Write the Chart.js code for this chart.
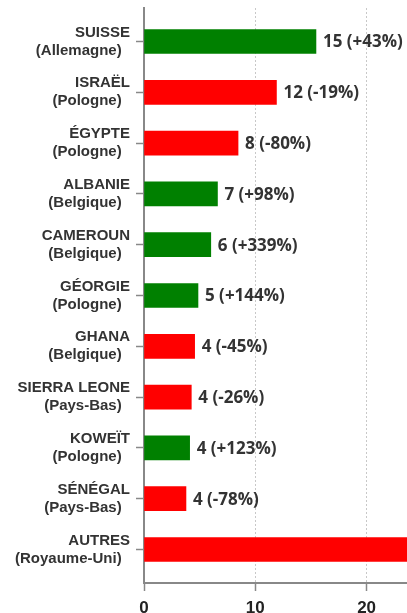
<!DOCTYPE html>
<html>
<head>
<meta charset="utf-8">
<script src="https://cdn.jsdelivr.net/npm/chart.js@4"></script>
<style>
  html, body { margin: 0; padding: 0; background: #fff; overflow: hidden; }
  #wrap { position: relative; width: 407px; height: 613px; }
</style>
</head>
<body>
<div id="wrap"><canvas id="myChart"></canvas></div>
<script>
// countries, main partner, and values
const countries = ['SUISSE', 'ISRAËL', 'ÉGYPTE', 'ALBANIE', 'CAMEROUN', 'GÉORGIE',
  'GHANA', 'SIERRA LEONE', 'KOWEÏT', 'SÉNÉGAL', 'AUTRES'];
const partners = ['Allemagne', 'Pologne', 'Pologne', 'Belgique', 'Belgique', 'Pologne',
  'Belgique', 'Pays-Bas', 'Pologne', 'Pays-Bas', 'Royaume-Uni'];
const values = [15.45, 11.9, 8.45, 6.6, 6.0, 4.85, 4.55, 4.25, 4.1, 3.77, 30];
const shown = [15, 12, 8, 7, 6, 5, 4, 4, 4, 4, null];
const changes = [43, -19, -80, 98, 339, 144, -45, -26, 123, -78, null];
const xTicks = [0, 10, 20];

const GREEN = '#008000';
const RED = '#ff0000';

// value labels at the end of each bar
const barLabels = {
  id: 'barLabels',
  afterDatasetsDraw(chart) {
    const ctx = chart.ctx;
    const meta = chart.getDatasetMeta(0);
    ctx.save();
    ctx.font = 'bold 17px "Open Sans"';
    ctx.fillStyle = '#333';
    ctx.textAlign = 'left';
    ctx.textBaseline = 'middle';
    meta.data.forEach((bar, i) => {
      if (shown[i] === null || bar.x >= chart.chartArea.right) return;
      const sign = changes[i] > 0 ? '+' : '';
      ctx.fillText(shown[i] + ' (' + sign + changes[i] + '%)', bar.x + 7, bar.y + 1);
    });
    ctx.restore();
  }
};

window.onload = function() {
  const ctx = document.getElementById('myChart').getContext('2d');
  new Chart(ctx, {
    type: 'bar',
    data: {
      datasets: [{
        data: values.map((v, i) => ({ x: v, y: i })),
        backgroundColor: changes.map(c => c !== null && c > 0 ? GREEN : RED),
        barThickness: 24,
        borderWidth: 0
      }]
    },
    options: {
      indexAxis: 'y',
      responsive: true,
      maintainAspectRatio: false,
      animation: false,
      layout: { padding: { top: 8, left: 0, right: 0, bottom: 0 } },
      plugins: { legend: { display: false }, tooltip: { enabled: false } },
      scales: {
        x: {
          type: 'linear',
          position: 'bottom',
          min: 0,
          max: 23.63,
          bounds: 'data',
          afterFit: s => { s.height = 30; },
          afterBuildTicks: s => { s.ticks = xTicks.map(v => ({ value: v })); },
          ticks: {
            includeBounds: false,
            padding: 7,
            color: '#222',
            font: { family: '"Liberation Sans", Arial, sans-serif', size: 17, weight: 'bold' }
          },
          grid: {
            color: c => (c.tick && c.tick.value === 0) ? 'rgba(0,0,0,0)' : '#c8c8c8',
            lineWidth: 1,
            tickColor: '#888',
            tickLength: 8,
            tickWidth: 1.5
          },
          border: { color: '#888', width: 2, dash: [2, 2] }
        },
        y: {
          type: 'linear',
          reverse: true,
          offset: false,
          bounds: 'data',
          min: -0.66,
          max: 10.66,
          afterFit: s => { s.width = 144; s.paddingTop = 0; s.paddingBottom = 0; },
          afterBuildTicks: s => { s.ticks = countries.map((c, i) => ({ value: i })); },
          ticks: {
            includeBounds: false,
            autoSkip: false,
            padding: 6,
            color: '#333',
            font: { family: '"Liberation Sans", Arial, sans-serif', size: 15, weight: 'bold', lineHeight: 1.2 },
            callback: v => [countries[v], '(' + partners[v] + ')  ']
          },
          grid: {
            offset: false,
            drawOnChartArea: false,
            color: '#888',
            tickLength: 8,
            tickWidth: 1.5
          },
          border: { color: '#888', width: 2 }
        }
      }
    },
    plugins: [barLabels]
  });
};
</script>
</body>
</html>
